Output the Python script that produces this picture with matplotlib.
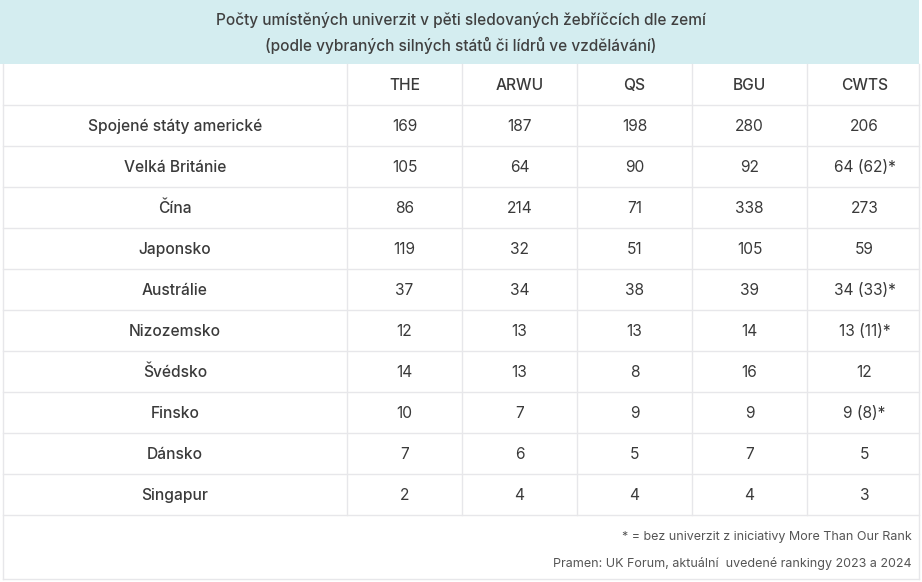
import matplotlib
matplotlib.use("Agg")
import matplotlib.pyplot as plt
from matplotlib.patches import Rectangle

plt.rcParams['font.family'] = ['Inter', 'DejaVu Sans']

title_lines = ["Počty umístěných univerzit v pěti sledovaných žebříčcích dle zemí",
               "(podle vybraných silných států či lídrů ve vzdělávání)"]
columns = ["THE", "ARWU", "QS", "BGU", "CWTS"]
countries = ["Spojené státy americké", "Velká Británie", "Čína", "Japonsko", "Austrálie",
             "Nizozemsko", "Švédsko", "Finsko", "Dánsko", "Singapur"]
the_vals = ["169", "105", "86", "119", "37", "12", "14", "10", "7", "2"]
arwu_vals = ["187", "64", "214", "32", "34", "13", "13", "7", "6", "4"]
qs_vals = ["198", "90", "71", "51", "38", "13", "8", "9", "5", "4"]
bgu_vals = ["280", "92", "338", "105", "39", "14", "16", "9", "7", "4"]
cwts_vals = ["206", "64 (62)*", "273", "59", "34 (33)*", "13 (11)*", "12", "9 (8)*", "5", "3"]
footnotes = ["* = bez univerzit z iniciativy More Than Our Rank",
             "Pramen: UK Forum, aktuální  uvedené rankingy 2023 a 2024"]

W, H = 922, 582
fig = plt.figure(figsize=(W / 100, H / 100), dpi=100)
ax = fig.add_axes([0, 0, 1, 1])
ax.set_xlim(0, W)
ax.set_ylim(H, 0)
ax.axis('off')

line_c = '#e7e7ea'
text_c = '#3a3a3a'
# header band
ax.add_patch(Rectangle((0, 0), 919, 64, facecolor='#d4edf0', edgecolor='none'))
ax.text(461, 20, title_lines[0], ha='center', va='center', fontsize=11.1, color='#404040',
        fontweight='medium')
ax.text(461, 45, title_lines[1], ha='center', va='center', fontsize=11.1, color='#404040',
        fontweight='medium')

# grid
left, right = 3, 919
col_edges = [347, 462, 577, 692, 807]
row_h = 41
top = 64
head_bot = 105
n = len(countries)
table_bot = head_bot + n * row_h
for i in range(n + 1):
    y = head_bot + i * row_h
    ax.plot([left, right], [y, y], color=line_c, lw=1.0)
for x in col_edges:
    ax.plot([x, x], [top, table_bot], color=line_c, lw=1.0)
ax.plot([left, left], [top, 579], color=line_c, lw=1.0)
ax.plot([right, right], [top, 579], color=line_c, lw=1.0)
ax.plot([left, right], [579, 579], color=line_c, lw=1.0)

col_centers = [c + 57.5 for c in col_edges]
for cx, name in zip(col_centers, columns):
    ax.text(cx, (top + head_bot) / 2 + 1, name, ha='center', va='center', fontsize=11.2,
            color=text_c, fontweight='medium')

series = [the_vals, arwu_vals, qs_vals, bgu_vals, cwts_vals]
for i, c in enumerate(countries):
    yc = head_bot + i * row_h + row_h / 2 + 1
    ax.text(175, yc, c, ha='center', va='center', fontsize=11.2, color=text_c, fontweight='medium')
    for cx, s in zip(col_centers, series):
        ax.text(cx, yc, s[i], ha='center', va='center', fontsize=11.2, color=text_c)

ax.text(912, 537, footnotes[0], ha='right', va='center', fontsize=9, color='#555555')
ax.text(912, 563, footnotes[1], ha='right', va='center', fontsize=9, color='#555555')

fig.savefig('out.png', dpi=100)
